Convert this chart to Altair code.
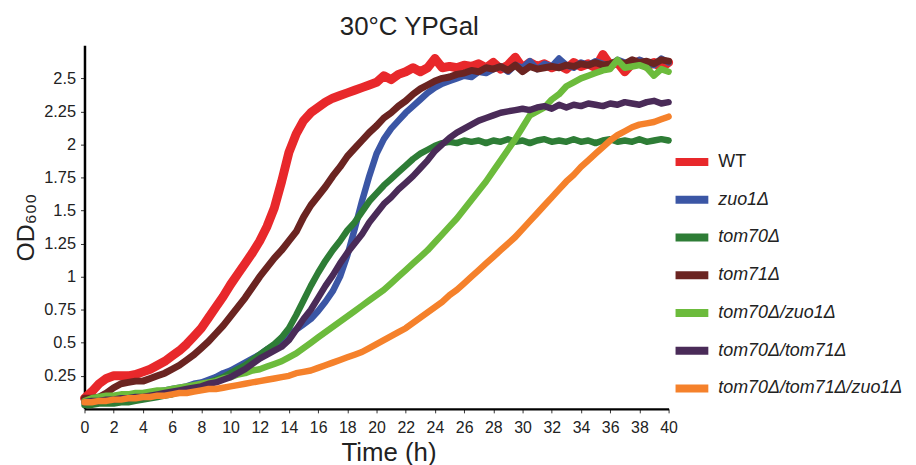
import altair as alt
import pandas as pd

time_h = [i / 2 for i in range(81)]

strains = ["WT", "zuo1Δ", "tom70Δ", "tom71Δ", "tom70Δ/zuo1Δ", "tom70Δ/tom71Δ", "tom70Δ/tom71Δ/zuo1Δ"]
colors = ["#e8282b", "#3b56a5", "#2e7d36", "#6b2421", "#6cbb3c", "#4a2b58", "#f5812b"]
widths = [9, 6.5, 6.5, 7, 6.5, 6.5, 6.5]

wt = [0.08, 0.13, 0.19, 0.23, 0.25, 0.25, 0.25, 0.26, 0.28, 0.30, 0.33, 0.36, 0.40, 0.44, 0.49, 0.55,
      0.61, 0.69, 0.77, 0.85, 0.94, 1.02, 1.10, 1.18, 1.27, 1.38, 1.52, 1.72, 1.94, 2.08, 2.18, 2.24,
      2.28, 2.32, 2.35, 2.37, 2.39, 2.41, 2.43, 2.45, 2.47, 2.52, 2.49, 2.53, 2.55, 2.58, 2.55, 2.58,
      2.65, 2.58, 2.59, 2.58, 2.60, 2.59, 2.61, 2.58, 2.62, 2.57, 2.60, 2.66, 2.58, 2.62, 2.59, 2.61,
      2.58, 2.60, 2.57, 2.62, 2.59, 2.61, 2.58, 2.68, 2.60, 2.62, 2.55, 2.61, 2.63, 2.59, 2.62, 2.58, 2.62]
zuo1 = [0.05, 0.06, 0.07, 0.07, 0.08, 0.09, 0.10, 0.10, 0.11, 0.12, 0.13, 0.14, 0.15, 0.16, 0.17, 0.19,
        0.20, 0.22, 0.24, 0.27, 0.29, 0.32, 0.35, 0.38, 0.41, 0.45, 0.48, 0.52, 0.56, 0.60, 0.64, 0.68,
        0.74, 0.81, 0.89, 1.00, 1.16, 1.36, 1.57, 1.76, 1.93, 2.04, 2.12, 2.18, 2.24, 2.29, 2.34, 2.39,
        2.43, 2.46, 2.48, 2.50, 2.52, 2.51, 2.55, 2.54, 2.57, 2.59, 2.55, 2.60, 2.58, 2.63, 2.57, 2.61,
        2.59, 2.65, 2.60, 2.58, 2.62, 2.60, 2.63, 2.61, 2.60, 2.64, 2.62, 2.60, 2.64, 2.62, 2.60, 2.65, 2.62]
tom70 = [0.03, 0.03, 0.04, 0.04, 0.04, 0.05, 0.05, 0.06, 0.07, 0.08, 0.09, 0.10, 0.11, 0.13, 0.14, 0.16,
         0.18, 0.20, 0.22, 0.24, 0.27, 0.30, 0.33, 0.37, 0.41, 0.45, 0.49, 0.54, 0.61, 0.71, 0.82, 0.93,
         1.03, 1.12, 1.20, 1.27, 1.35, 1.41, 1.49, 1.57, 1.63, 1.69, 1.74, 1.79, 1.84, 1.89, 1.93, 1.96,
         1.99, 2.01, 2.02, 2.01, 2.03, 2.02, 2.03, 2.01, 2.03, 2.02, 2.04, 2.02, 2.03, 2.01, 2.03, 2.04,
         2.02, 2.03, 2.02, 2.04, 2.02, 2.03, 2.01, 2.03, 2.04, 2.02, 2.03, 2.02, 2.04, 2.02, 2.03, 2.04, 2.03]
tom71 = [0.08, 0.08, 0.09, 0.12, 0.16, 0.19, 0.20, 0.21, 0.21, 0.23, 0.25, 0.27, 0.30, 0.33, 0.37, 0.41,
         0.46, 0.51, 0.57, 0.63, 0.70, 0.77, 0.84, 0.92, 1.00, 1.07, 1.14, 1.20, 1.27, 1.34, 1.45, 1.54,
         1.61, 1.68, 1.76, 1.83, 1.91, 1.97, 2.03, 2.09, 2.14, 2.20, 2.24, 2.29, 2.33, 2.38, 2.42, 2.45,
         2.48, 2.50, 2.51, 2.53, 2.54, 2.56, 2.55, 2.58, 2.57, 2.59, 2.56, 2.60, 2.55, 2.59, 2.57, 2.58,
         2.59, 2.58, 2.60, 2.59, 2.61, 2.60, 2.62, 2.60, 2.61, 2.63, 2.61, 2.64, 2.62, 2.63, 2.61, 2.64, 2.63]
tom70_zuo1 = [0.06, 0.08, 0.09, 0.10, 0.10, 0.11, 0.11, 0.12, 0.12, 0.13, 0.14, 0.14, 0.15, 0.16, 0.17, 0.18,
              0.19, 0.20, 0.21, 0.23, 0.24, 0.26, 0.27, 0.29, 0.30, 0.32, 0.34, 0.36, 0.39, 0.42, 0.46, 0.50,
              0.54, 0.58, 0.62, 0.66, 0.70, 0.74, 0.78, 0.82, 0.86, 0.90, 0.95, 1.00, 1.05, 1.10, 1.15, 1.20,
              1.26, 1.32, 1.38, 1.44, 1.51, 1.58, 1.65, 1.72, 1.80, 1.88, 1.96, 2.04, 2.13, 2.22, 2.25, 2.28,
              2.34, 2.38, 2.44, 2.47, 2.50, 2.52, 2.54, 2.56, 2.57, 2.64, 2.58, 2.59, 2.60, 2.58, 2.52, 2.57, 2.55]
tom70_tom71 = [0.05, 0.06, 0.06, 0.07, 0.07, 0.08, 0.08, 0.09, 0.09, 0.10, 0.11, 0.12, 0.13, 0.14, 0.15, 0.16,
               0.17, 0.19, 0.20, 0.22, 0.24, 0.27, 0.30, 0.34, 0.38, 0.41, 0.44, 0.47, 0.52, 0.60, 0.68, 0.75,
               0.84, 0.93, 1.01, 1.10, 1.18, 1.25, 1.32, 1.41, 1.48, 1.55, 1.60, 1.66, 1.71, 1.76, 1.82, 1.88,
               1.95, 2.00, 2.05, 2.09, 2.12, 2.15, 2.18, 2.20, 2.22, 2.24, 2.25, 2.26, 2.27, 2.26, 2.28, 2.29,
               2.27, 2.30, 2.28, 2.30, 2.29, 2.31, 2.30, 2.29, 2.31, 2.30, 2.32, 2.31, 2.30, 2.32, 2.33, 2.31, 2.32]
triple = [0.05, 0.05, 0.06, 0.06, 0.07, 0.07, 0.08, 0.08, 0.09, 0.09, 0.10, 0.10, 0.11, 0.12, 0.12, 0.13,
          0.14, 0.15, 0.15, 0.16, 0.17, 0.18, 0.19, 0.20, 0.21, 0.22, 0.23, 0.24, 0.25, 0.27, 0.28, 0.29,
          0.31, 0.33, 0.35, 0.37, 0.39, 0.41, 0.43, 0.46, 0.49, 0.52, 0.55, 0.58, 0.61, 0.65, 0.69, 0.73,
          0.77, 0.81, 0.86, 0.90, 0.95, 1.00, 1.05, 1.10, 1.15, 1.20, 1.25, 1.30, 1.36, 1.42, 1.48, 1.54,
          1.60, 1.66, 1.72, 1.77, 1.83, 1.88, 1.93, 1.98, 2.03, 2.07, 2.10, 2.13, 2.15, 2.16, 2.17, 2.19, 2.21]

series = [wt, zuo1, tom70, tom71, tom70_zuo1, tom70_tom71, triple]

x_ticks = list(range(0, 41, 2))
y_ticks = [0.25, 0.5, 0.75, 1, 1.25, 1.5, 1.75, 2, 2.25, 2.5]

FONT = "Liberation Sans"

color_scale = alt.Scale(domain=strains, range=colors)

layers = []
for name, vals, w in zip(strains, series, widths):
    df = pd.DataFrame({"Time": time_h, "OD": vals, "Strain": name})
    layers.append(
        alt.Chart(df).mark_line(strokeWidth=w, strokeJoin="round", strokeCap="round").encode(
            x=alt.X("Time:Q", scale=alt.Scale(domain=[0, 40], nice=False),
                    axis=alt.Axis(values=x_ticks, title="Time (h)", labelExpr="'' + datum.value",
                                  labelFlush=False, titleX=306, titleFontSize=26,
                                  labelFontSize=16, labelPadding=7, titlePadding=4)),
            y=alt.Y("OD:Q", scale=alt.Scale(domain=[0, 2.75], nice=False),
                    axis=alt.Axis(values=y_ticks, title="OD₆₀₀", labelExpr="'' + datum.value",
                                  titleFontSize=25, labelFontSize=16.5, labelPadding=5, titlePadding=5)),
            color=alt.Color("Strain:N", scale=color_scale, sort=strains,
                            legend=alt.Legend(title=None, orient="none", legendX=591, legendY=97,
                                              symbolType="stroke", symbolStrokeWidth=8, symbolSize=1089,
                                              labelFontSize=18, labelFont=FONT, labelColor="#222",
                                              labelFontStyle=alt.ExprRef(expr="datum.label == 'WT' ? 'normal' : 'italic'"),
                                              rowPadding=1, labelOffset=6, labelLimit=300)),
        )
    )

chart = alt.layer(*layers).properties(
    width=588, height=366,
    title=alt.TitleParams("30°C YPGal", fontSize=26, font=FONT, fontWeight="normal", color="#222", dx=33, offset=5),
).configure_view(stroke=None).configure_axis(
    domainColor="black", domainWidth=2.5, tickColor="#333", tickSize=4, grid=False,
    labelFont=FONT, labelColor="#222",
    titleFont=FONT, titleFontWeight="normal", titleColor="#222",
)

chart.save("out.html", embed_options={"renderer": "svg", "actions": False})
